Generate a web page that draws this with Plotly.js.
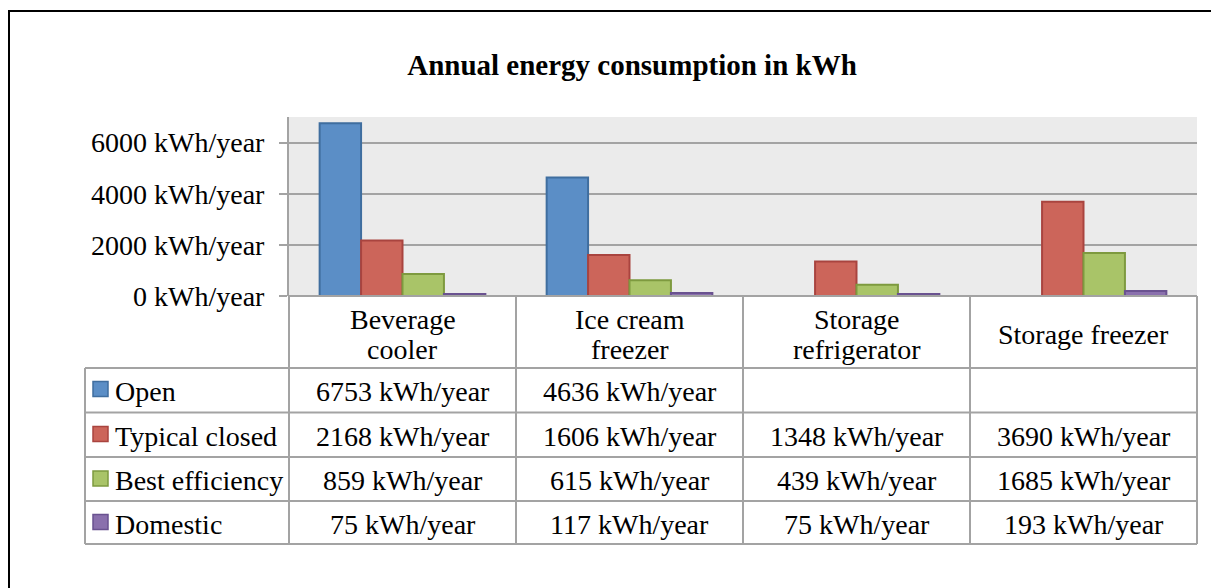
<!DOCTYPE html>
<html>
<head>
<meta charset="utf-8">
<script src="https://cdn.plot.ly/plotly-3.0.1.min.js"></script>
<style>
  html, body { margin: 0; padding: 0; background: #ffffff; }
  #chart { width: 1211px; height: 588px; }
</style>
</head>
<body>
<div id="chart"></div>
<script>
// ---- data ----
const categories = ["Beverage cooler", "Ice cream freezer", "Storage refrigerator", "Storage freezer"];
const categoryLabels = ["Beverage<br>cooler", "Ice cream<br>freezer", "Storage<br>refrigerator", "Storage freezer"];
const seriesNames = ["Open", "Typical closed", "Best efficiency", "Domestic"];
const openValues = [6753, 4636, null, null];
const typicalClosedValues = [2168, 1606, 1348, 3690];
const bestEfficiencyValues = [859, 615, 439, 1685];
const domesticValues = [75, 117, 75, 193];
const unit = " kWh/year";
const yTickValues = [0, 2000, 4000, 6000];

// ---- styling ----
const fillColors = ["#5B8EC6", "#CC655A", "#A9C468", "#8A70AD"];
const lineColors = ["#3F6E9F", "#A9443F", "#7E9A3F", "#6A5290"];
const gridColor = "#A3A3A3";
const FONT = "Liberation Serif, Times New Roman, serif";
const FS = 28;

const W = 1211, H = 588;
const L = 289, R = 1197, T = 117, B = 296;
const fx = px => (px - L) / (R - L);
const fy = py => (B - py) / (B - T);

const allSeries = [openValues, typicalClosedValues, bestEfficiencyValues, domesticValues];

const traces = allSeries.map((vals, i) => ({
  type: "bar",
  name: seriesNames[i],
  x: categories,
  y: vals,
  marker: { color: fillColors[i], line: { color: lineColors[i], width: 2 } },
  hoverinfo: "skip"
}));

// ---- table geometry (pixels) ----
const rowLines = [368, 412.5, 457, 501, 544];
const rowCenters = [391, 436, 480.5, 524];

const shapes = [];
const gl = (x0, y0, x1, y1, xref) => ({
  type: "line", xref: xref || "paper", yref: "paper",
  x0: x0, y0: y0, x1: x1, y1: y1,
  line: { color: gridColor, width: 2 }, layer: "above"
});
// horizontal lines of the table
shapes.push(gl(fx(L), fy(B), fx(R), fy(B)));
rowLines.forEach(py => shapes.push(gl(fx(85), fy(py), fx(R), fy(py))));
// verticals
shapes.push(gl(fx(85), fy(368), fx(85), fy(544)));
shapes.push(gl(0, fy(B), 0, fy(544)));
shapes.push(gl(1, fy(B), 1, fy(544)));
for (let i = 0; i < categories.length - 1; i++) {
  shapes.push(gl(i + 0.5, fy(B), i + 0.5, fy(544), "x"));
}
// legend keys
seriesNames.forEach((n, i) => {
  const cy = rowCenters[i] - 2;
  shapes.push({
    type: "rect", xref: "paper", yref: "paper",
    x0: fx(93), x1: fx(108), y0: fy(cy - 7.5), y1: fy(cy + 7.5),
    fillcolor: fillColors[i], line: { color: lineColors[i], width: 1.5 }, layer: "above"
  });
});
// outer chart border
shapes.push({
  type: "rect", xref: "paper", yref: "paper",
  x0: fx(9), x1: fx(1216), y0: fy(11), y1: fy(594),
  line: { color: "#000000", width: 2 }, fillcolor: "rgba(0,0,0,0)", layer: "above"
});

const annotations = [];
// header (category names), one annotation per text line
categories.forEach((c, i) => {
  const lines = categoryLabels[i].split("<br>");
  const lh = 30;
  const y0 = 334 - (lines.length - 1) * lh / 2;
  lines.forEach((ln, k) => {
    annotations.push({
      xref: "x", yref: "paper", x: c, y: fy(y0 + k * lh),
      text: ln, showarrow: false,
      xanchor: "center", yanchor: "middle", align: "center",
      font: { family: FONT, size: FS, color: "#000" }
    });
  });
});
// row labels + values
allSeries.forEach((vals, r) => {
  annotations.push({
    xref: "paper", yref: "paper", x: fx(113), y: fy(rowCenters[r]),
    text: seriesNames[r], showarrow: false,
    xanchor: "left", yanchor: "middle",
    font: { family: FONT, size: FS, color: "#000" }
  });
  vals.forEach((v, c) => {
    if (v === null) return;
    annotations.push({
      xref: "x", yref: "paper", x: categories[c], y: fy(rowCenters[r]),
      text: v + unit, showarrow: false,
      xanchor: "center", yanchor: "middle",
      font: { family: FONT, size: FS, color: "#000" }
    });
  });
});

const layout = {
  width: W, height: H,
  margin: { l: L, r: W - R, t: T, b: H - B, pad: 0 },
  paper_bgcolor: "#ffffff",
  plot_bgcolor: "#EBEBEB",
  showlegend: false,
  barmode: "group",
  bargap: 0.27,
  bargroupgap: 0,
  title: {
    text: "<b>Annual energy consumption in kWh</b>",
    xref: "container", yref: "container",
    x: 632 / W, y: 1 - 65 / H, xanchor: "center", yanchor: "middle",
    font: { family: FONT, size: 29, color: "#000" }
  },
  xaxis: {
    type: "category",
    range: [-0.5, 3.5],
    showticklabels: false,
    showgrid: false,
    zeroline: false,
    showline: false,
    ticks: ""
  },
  yaxis: {
    range: [0, 7000],
    tickvals: yTickValues,
    ticktext: yTickValues.map(v => v + unit),
    showgrid: true,
    gridcolor: gridColor,
    gridwidth: 2,
    zeroline: false,
    showline: true,
    linecolor: gridColor,
    linewidth: 2,
    ticks: "outside",
    ticklen: 8,
    tickwidth: 2,
    tickcolor: gridColor,
    ticklabelstandoff: 9,
    tickfont: { family: FONT, size: FS, color: "#000" }
  },
  shapes: shapes,
  annotations: annotations
};

Plotly.newPlot("chart", traces, layout, { staticPlot: true, displayModeBar: false });
</script>
</body>
</html>
